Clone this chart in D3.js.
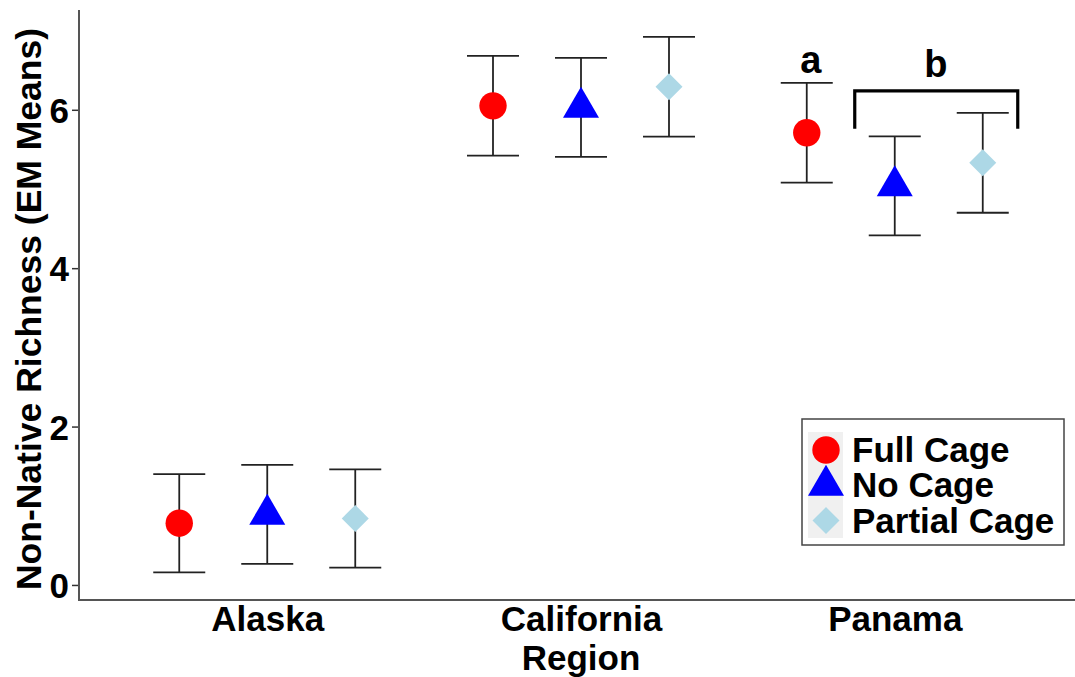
<!DOCTYPE html>
<html>
<head>
<meta charset="utf-8">
<script src="https://cdn.jsdelivr.net/npm/d3@7"></script>
<style>
  html, body { margin: 0; padding: 0; background: #fff; }
  svg { display: block; font-family: "Liberation Sans", Arial, Helvetica, sans-serif; font-weight: bold; }
</style>
</head>
<body>
<svg id="chart" width="1075" height="677"></svg>
<script>
// Estimated marginal means of non-native richness by region and cage treatment
const regions = ["Alaska", "California", "Panama"];
const treatments = ["Full Cage", "No Cage", "Partial Cage"];
const fullCageMean = [0.78, 6.05, 5.71];
const noCageMean = [0.89, 6.03, 5.04];
const partialCageMean = [0.84, 6.29, 5.33];
const fullCageSE = [0.62, 0.63, 0.63];
const noCageSE = [0.625, 0.625, 0.625];
const partialCageSE = [0.62, 0.63, 0.63];
const yTicks = [0, 2, 4, 6];

// Significance annotation for Panama
const letterA = { label: "a", region: "Panama", treatment: "Full Cage", y: 6.47 };
const letterB = { label: "b", region: "Panama", y: 6.42 };
const bracket = { region: "Panama", from: "No Cage", to: "Partial Cage", top: 6.24, bottom: 5.76 };

const colors = { "Full Cage": "#ff0000", "No Cage": "#0000ff", "Partial Cage": "#add8e6" };

const means = [fullCageMean, noCageMean, partialCageMean];
const ses = [fullCageSE, noCageSE, partialCageSE];
const rows = [];
treatments.forEach((t, ti) => {
  regions.forEach((r, ri) => {
    rows.push({ region: r, treatment: t, mean: means[ti][ri], se: ses[ti][ri] });
  });
});

const svg = d3.select("#chart");
const panel = { left: 79, right: 1083, top: 10, bottom: 600 };
const labelSize = "35px";

const x = d3.scalePoint().domain(regions).range([panel.left, panel.right]).padding(0.6);
const dodge = d3.scalePoint().domain(treatments).range([-88, 88]);
const y = d3.scaleLinear().domain([-0.19, 7.26]).range([panel.bottom, panel.top]);
const xPos = d => x(d.region) + dodge(d.treatment);

// Axes
const yAxis = d3.axisLeft(y).tickValues(yTicks).tickFormat(d3.format("d")).tickSize(7).tickPadding(3);
const gy = svg.append("g").attr("transform", `translate(${panel.left},0)`).call(yAxis);
gy.select(".domain").remove();
gy.selectAll(".tick line").attr("stroke", "#333").attr("stroke-width", 1.5);
gy.selectAll(".tick text").attr("fill", "#000").style("font-size", labelSize).attr("dy", "0.36em");

const xAxis = d3.axisBottom(x).tickSize(0).tickPadding(6);
const gx = svg.append("g").attr("transform", `translate(0,${panel.bottom})`).call(xAxis);
gx.select(".domain").remove();
gx.selectAll(".tick text").attr("fill", "#000").style("font-size", labelSize).attr("dy", "0.71em");

svg.append("line")
  .attr("x1", panel.left).attr("x2", panel.left)
  .attr("y1", panel.top).attr("y2", panel.bottom + 1)
  .attr("stroke", "#555").attr("stroke-width", 2);
svg.append("line")
  .attr("x1", panel.left - 1).attr("x2", 1075)
  .attr("y1", panel.bottom).attr("y2", panel.bottom)
  .attr("stroke", "#555").attr("stroke-width", 2);

// Axis titles
svg.append("text")
  .attr("x", x("California"))
  .attr("y", 670)
  .attr("text-anchor", "middle")
  .style("font-size", labelSize)
  .text("Region");

svg.append("text")
  .attr("transform", `translate(41,${(28 + 590) / 2}) rotate(-90)`)
  .attr("text-anchor", "middle")
  .style("font-size", "35.5px")
  .text("Non-Native Richness (EM Means)");

// Error bars
const capHalf = 26;
const eb = svg.append("g").attr("stroke", "#222").attr("stroke-width", 1.8).attr("fill", "none");
rows.forEach(d => {
  const cx = xPos(d);
  const yt = y(d.mean + d.se), yb = y(d.mean - d.se);
  eb.append("line").attr("x1", cx).attr("x2", cx).attr("y1", yt).attr("y2", yb);
  eb.append("line").attr("x1", cx - capHalf).attr("x2", cx + capHalf).attr("y1", yt).attr("y2", yt);
  eb.append("line").attr("x1", cx - capHalf).attr("x2", cx + capHalf).attr("y1", yb).attr("y2", yb);
});

// Point symbols
function symbolPath(t) {
  if (t === "Full Cage") {
    const r = 13.7;
    return `M${-r},0A${r},${r} 0 1,0 ${r},0A${r},${r} 0 1,0 ${-r},0Z`;
  }
  if (t === "No Cage") {
    // centroid-centred triangle, 36 wide, 31 tall
    const w = 18, h = 31;
    return `M0,${-h * 2 / 3}L${w},${h / 3}L${-w},${h / 3}Z`;
  }
  const s = 13.5;
  return `M0,${-s}L${s},0L0,${s}L${-s},0Z`;
}

svg.append("g").selectAll("path").data(rows).join("path")
  .attr("d", d => symbolPath(d.treatment))
  .attr("transform", d => `translate(${xPos(d)},${y(d.mean)})`)
  .attr("fill", d => colors[d.treatment]);

// Significance letters and bracket
svg.append("text")
  .attr("x", x(letterA.region) + dodge(letterA.treatment) + 4)
  .attr("y", y(letterA.y))
  .attr("text-anchor", "middle")
  .style("font-size", "38px")
  .text(letterA.label);

const bx1 = x(bracket.region) + dodge(bracket.from) - 40;
const bx2 = x(bracket.region) + dodge(bracket.to) + 35;
svg.append("path")
  .attr("d", `M${bx1},${y(bracket.bottom)}V${y(bracket.top)}H${bx2}V${y(bracket.bottom)}`)
  .attr("fill", "none").attr("stroke", "#000").attr("stroke-width", 3.2);

svg.append("text")
  .attr("x", x(letterB.region) + (dodge(bracket.from) + dodge(bracket.to)) / 2 - 3)
  .attr("y", y(letterB.y))
  .attr("text-anchor", "middle")
  .style("font-size", "38px")
  .text(letterB.label);

// Legend
const legend = svg.append("g");
legend.append("rect")
  .attr("x", 802).attr("y", 419).attr("width", 262).attr("height", 126)
  .attr("fill", "#fff").attr("stroke", "#444").attr("stroke-width", 1.5);
legend.append("rect")
  .attr("x", 808).attr("y", 432).attr("width", 35).attr("height", 106)
  .attr("fill", "#f0f0f0");
treatments.forEach((t, i) => {
  const cy = 450 + i * 35.3;
  legend.append("path")
    .attr("d", symbolPath(t))
    .attr("transform", `translate(826,${cy})`)
    .attr("fill", colors[t]);
  legend.append("text")
    .attr("x", 852).attr("y", cy + 12)
    .style("font-size", labelSize)
    .text(t);
});
</script>
</body>
</html>
